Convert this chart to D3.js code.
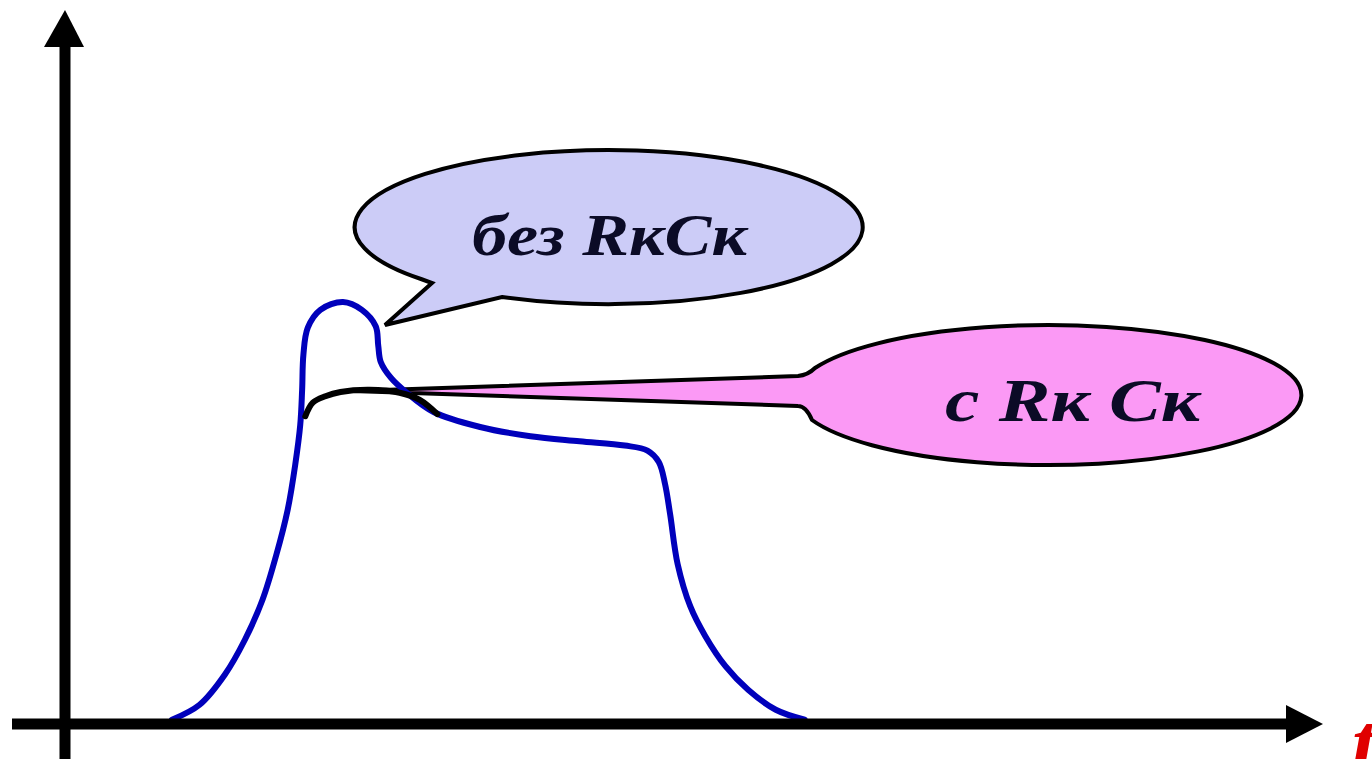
<!DOCTYPE html>
<html>
<head>
<meta charset="utf-8">
<script src="https://cdn.jsdelivr.net/npm/d3@7/dist/d3.min.js"></script>
<style>
  html, body { margin: 0; padding: 0; background: #ffffff; overflow: hidden; }
  svg { display: block; }
  .lbl { font-family: "Liberation Serif", "Times New Roman", serif; font-style: italic; font-weight: bold; }
</style>
</head>
<body>
<svg id="chart" width="1372" height="759"></svg>
<script>
// ---- data (t, u) in axis units ----
const blueT = [0.85, 1.07, 1.27, 1.43, 1.57, 1.68, 1.77, 1.83, 1.87, 1.885, 1.895, 1.93, 2.03, 2.21, 2.36, 2.47, 2.49, 2.51, 2.59, 2.71, 2.93, 3.30, 3.70, 4.09, 4.45, 4.63, 4.72, 4.77, 4.81, 4.87, 4.97, 5.09, 5.25, 5.43, 5.65, 5.88];
const blueU = [0.06, 0.27, 0.69, 1.18, 1.74, 2.37, 3.00, 3.63, 4.19, 4.68, 5.17, 5.55, 5.80, 5.91, 5.80, 5.57, 5.30, 5.07, 4.85, 4.65, 4.37, 4.16, 4.03, 3.96, 3.90, 3.83, 3.67, 3.36, 2.94, 2.24, 1.65, 1.23, 0.81, 0.48, 0.20, 0.06];
const blackT = [1.91, 1.97, 2.07, 2.19, 2.42, 2.66, 2.82, 2.96];
const blackU = [4.31, 4.50, 4.59, 4.65, 4.68, 4.64, 4.54, 4.34];
const labels = ["без RкCк", "c Rк Cк"];
const axisLabel = "t";

const svg = d3.select("#chart");
const x = d3.scaleLinear().domain([0, 10]).range([65, 1323]);
const y = d3.scaleLinear().domain([0, 10]).range([724, 10]);

// ---- callout: без RкCк (lavender) ----
(function () {
  const rx = 254, ry = 77;
  const a1 = [421, 279], j1 = [432, 283], tip = [385, 325], a2 = [502, 297];
  const p = `M${a1[0]},${a1[1]} L${j1[0]},${j1[1]} L${tip[0]},${tip[1]} L${a2[0]},${a2[1]} A${rx},${ry} 0 1 0 ${a1[0]},${a1[1]} Z`;
  svg.append("path").attr("d", p)
    .attr("fill", "#ccccf7").attr("stroke", "#000").attr("stroke-width", 4).attr("stroke-linejoin", "miter");
  svg.append("text").attr("class", "lbl").attr("x", 472).attr("y", 255)
    .style("font-size", "60px").attr("fill", "#0b0b26")
    .attr("textLength", 275).attr("lengthAdjust", "spacingAndGlyphs")
    .text(labels[0]);
})();

// ---- callout: c Rк Cк (pink) ----
(function () {
  const rx = 253, ry = 70;
  const e1 = [815, 368], e2 = [812, 420];
  const p = `M352,391 L798,376 Q808,375 ${e1[0]},${e1[1]} A${rx},${ry} 0 1 1 ${e2[0]},${e2[1]} Q806,406 798,406 Z`;
  svg.append("path").attr("d", p)
    .attr("fill", "#fb99f5").attr("stroke", "#000").attr("stroke-width", 4).attr("stroke-linejoin", "round");
  svg.append("text").attr("class", "lbl").attr("x", 945).attr("y", 421)
    .style("font-size", "62px").attr("fill", "#0b0b26")
    .attr("textLength", 255).attr("lengthAdjust", "spacingAndGlyphs")
    .text(labels[1]);
})();

// ---- curves ----
const line = d3.line().x(d => x(d[0])).y(d => y(d[1])).curve(d3.curveCatmullRom.alpha(0.5));
const blue = blueT.map((t, i) => [t, blueU[i]]);
const black = blackT.map((t, i) => [t, blackU[i]]);

svg.append("path").attr("d", line(blue))
  .attr("fill", "none").attr("stroke", "#0000bb").attr("stroke-width", 6).attr("stroke-linecap", "round").attr("stroke-linejoin", "round");
svg.append("path").attr("d", line(black))
  .attr("fill", "none").attr("stroke", "#000").attr("stroke-width", 6).attr("stroke-linecap", "round");

// ---- axes (arrows) ----
const x0 = x(0), y0 = y(0);
svg.append("line").attr("x1", 12).attr("y1", y0).attr("x2", 1290).attr("y2", y0)
  .attr("stroke", "#000").attr("stroke-width", 11);
svg.append("path").attr("d", `M1286,705 L1323,${y0} L1286,743 Z`).attr("fill", "#000");
svg.append("line").attr("x1", x0).attr("y1", 759).attr("x2", x0).attr("y2", 45)
  .attr("stroke", "#000").attr("stroke-width", 11);
svg.append("path").attr("d", `M44,47 L${x0},10 L84,47 Z`).attr("fill", "#000");

svg.append("text").attr("class", "lbl").attr("x", 1352).attr("y", 772)
  .style("font-size", "84px").attr("fill", "#e00000")
  .text(axisLabel);
</script>
</body>
</html>
